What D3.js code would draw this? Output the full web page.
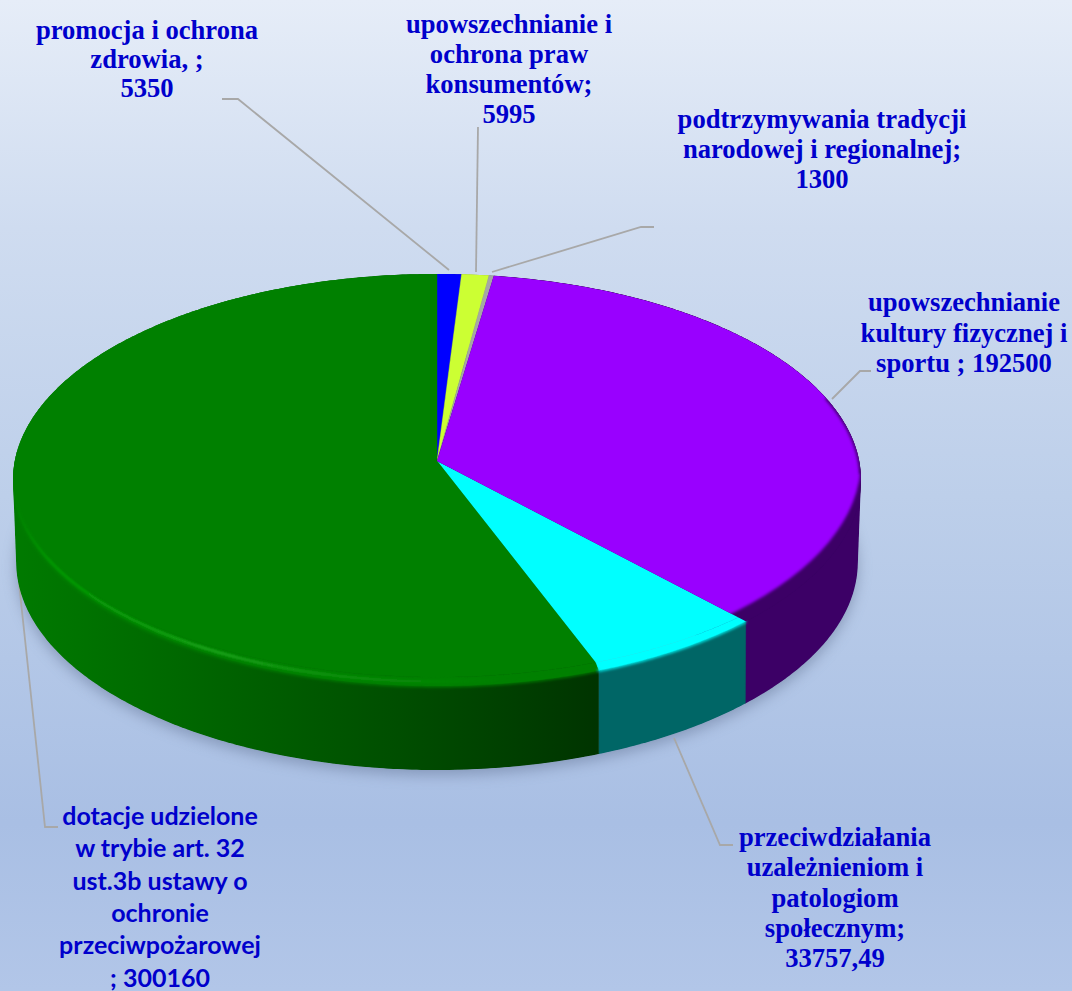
<!DOCTYPE html>
<html>
<head>
<meta charset="utf-8">
<style>
  html, body { margin: 0; padding: 0; }
  svg { display: block; }
</style>
<script src="https://cdn.jsdelivr.net/npm/d3@7"></script>
</head>
<body>
<div id="chart"></div>
<script>
// dane
const categories = [
  'promocja i ochrona zdrowia',
  'upowszechnianie i ochrona praw konsumentów',
  'podtrzymywania tradycji narodowej i regionalnej',
  'upowszechnianie kultury fizycznej i sportu',
  'przeciwdziałania uzależnieniom i patologiom społecznym',
  'dotacje udzielone w trybie art. 32 ust.3b ustawy o ochronie przeciwpożarowej'
];
const values = [5350, 5995, 1300, 192500, 33757.49, 300160];
const labelLines = [
  ['promocja i ochrona', 'zdrowia, ;', '5350'],
  ['upowszechnianie i', 'ochrona praw', 'konsumentów;', '5995'],
  ['podtrzymywania tradycji', 'narodowej i regionalnej;', '1300'],
  ['upowszechnianie', 'kultury fizycznej i', 'sportu ; 192500'],
  ['przeciwdziałania', 'uzależnieniom i', 'patologiom', 'społecznym;', '33757,49'],
  ['dotacje udzielone', 'w trybie art. 32', 'ust.3b ustawy o', 'ochronie', 'przeciwpożarowej', '; 300160']
];

// wygląd
const width = 1072;
const height = 991;
const topColors = ['#0000ff', '#ccff33', '#a6a6a6', '#9900ff', '#00ffff', '#008000'];
const wallColors = ['#000099', '#7a991f', '#636363', '#3c0066', '#006666', 'url(#greenWall)'];
const bevelColors = ['#0000ff', '#ccff33', '#a6a6a6', '#3c0066', '#00ffff', '#008000'];
const labelPos = [
  { x: 147, y: 39, dy: 29, font: 'serif' },
  { x: 509, y: 33, dy: 30, font: 'serif' },
  { x: 822, y: 128, dy: 30, font: 'serif' },
  { x: 964, y: 311, dy: 30.5, font: 'serif' },
  { x: 835, y: 846, dy: 30.3, font: 'serif' },
  { x: 160, y: 825, dy: 32.3, font: 'sans' }
];
const leaders = [
  [[222, 99], [238, 99], [449, 270]],
  [[478, 127], [476, 272]],
  [[654, 227], [641, 227], [492, 272]],
  [[871, 371], [860, 371], [832, 399]],
  [[674, 738], [720, 845], [733, 845]],
  [[19, 583], [45, 827], [58, 827]]
];

// rzut koła na elipsę z perspektywą: środek koła wypada nad środkiem elipsy
// pierścienie: 0 brzeg wierzchu, 1 góra ścianki, 2 dół ścianki
const apex = { x: 437, y: 461 };
const rings = [
  { k: 0.072, rx: 422.9, ry: 200.5, shift: 0 },
  { k: 0.092, rx: 422.2, ry: 204.3, shift: 0 },
  { k: 0.101, rx: 418.7, ry: 205.9, shift: 80 }
];

function project(a, level) {
  const r = rings[level];
  const u = Math.sin(a);
  const v = -Math.cos(a);
  const w = 1 - r.k * v;
  return [apex.x + r.rx * u / w, apex.y + r.ry * v / w + r.shift];
}

function arcAngles(a0, a1) {
  const n = Math.max(2, Math.ceil((a1 - a0) / 0.01));
  return d3.range(n + 1).map(i => a0 + (a1 - a0) * i / n);
}

// pas między dwoma pierścieniami
function band(d, inner, outer) {
  const a = arcAngles(d.startAngle, d.endAngle);
  return line(a.map(t => project(t, inner)).concat(a.slice().reverse().map(t => project(t, outer)))) + 'Z';
}

// ścianka: otoczka wypukła góry i dołu, tył i tak zakrywa wierzch
function wall(a0, a1) {
  const a = arcAngles(a0, a1);
  return line(d3.polygonHull(a.map(t => project(t, 1)).concat(a.map(t => project(t, 2))))) + 'Z';
}

// wycinek od środka do pierścienia
function sector(d, level) {
  const a = arcAngles(d.startAngle, d.endAngle);
  return line([[apex.x, apex.y]].concat(a.map(t => project(t, level)))) + 'Z';
}

const line = d3.line();
const arcs = d3.pie().sort(null).value(d => d)(values);

const svg = d3.select('#chart').append('svg')
  .attr('width', width)
  .attr('height', height);

const defs = svg.append('defs');

function gradient(id, stops, x1, x2) {
  const g = defs.append('linearGradient').attr('id', id);
  if (x1 === undefined) {
    g.attr('x1', 0).attr('y1', 0).attr('x2', 0).attr('y2', 1);
  } else {
    g.attr('gradientUnits', 'userSpaceOnUse')
      .attr('x1', x1).attr('y1', 0).attr('x2', x2).attr('y2', 0);
  }
  stops.forEach(s => {
    g.append('stop')
      .attr('offset', s[0])
      .attr('stop-color', s[1])
      .attr('stop-opacity', s[2] === undefined ? 1 : s[2]);
  });
}

gradient('bg', [[0, '#e6edf8'], [0.23, '#cfdcf0'], [0.5, '#bdcfea'], [0.83, '#a9bfe4'], [1, '#b2c6e8']]);
gradient('greenWall', [[0, '#007a00'], [0.25, '#006a00'], [0.66, '#004e00'], [1, '#003400']], 13, 597);
gradient('greenGlow', [[0, '#009a00', 0], [0.08, '#009a00', 1], [0.42, '#1fa81f', 1], [0.85, '#0f920f', 0.5], [1, '#0f920f', 0]], 13, 500);

function blur(id, dev) {
  defs.append('filter').attr('id', id)
    .attr('filterUnits', 'userSpaceOnUse')
    .attr('x', -50).attr('y', 200).attr('width', 1172).attr('height', 700)
    .append('feGaussianBlur').attr('stdDeviation', dev);
}
blur('soft', 1.6);
blur('thin', 1);
blur('shadow', 7);

// obrys całego tortu (góra + ścianka)
defs.append('clipPath').attr('id', 'pieClip')
  .append('path')
  .attr('d', wall(0, 2 * Math.PI));

// fiolet ma własną, płaską krawędź
defs.append('clipPath').attr('id', 'purpleClip')
  .append('path')
  .attr('d', sector(arcs[3], 1));

svg.append('rect')
  .attr('width', width)
  .attr('height', height)
  .attr('fill', 'url(#bg)');

// cień pod tortem
svg.append('path')
  .attr('d', line(arcAngles(0, 2 * Math.PI).map(t => project(t, 2))) + 'Z')
  .attr('transform', 'translate(0, 5)')
  .attr('fill', '#5f6f90')
  .attr('opacity', 0.5)
  .attr('filter', 'url(#shadow)');

// linie odniesienia
svg.append('g')
  .selectAll('path')
  .data(leaders)
  .join('path')
  .attr('d', d => line(d))
  .attr('fill', 'none')
  .attr('stroke', '#a8a8a8')
  .attr('stroke-width', 1.8);

const pie = svg.append('g').attr('clip-path', 'url(#pieClip)');

// ścianki boczne
pie.append('g')
  .selectAll('path')
  .data(arcs)
  .join('path')
  .attr('d', d => wall(d.startAngle, d.endAngle))
  .attr('fill', (d, i) => wallColors[i])
  .attr('stroke', (d, i) => wallColors[i])
  .attr('stroke-width', 0.5);

// skos między wierzchem a ścianką
pie.append('g')
  .selectAll('path')
  .data(arcs)
  .join('path')
  .attr('d', d => band(d, 0, 1))
  .attr('fill', (d, i) => bevelColors[i])
  .attr('stroke', (d, i) => bevelColors[i])
  .attr('stroke-width', 0.4);

// miękka krawędź na granicy ze ścianką
const rim = pie.append('g').attr('filter', 'url(#soft)').attr('fill', 'none');
[4, 5].forEach(i => {
  const d = arcs[i];
  const a1 = Math.min(d.endAngle, 1.5 * Math.PI + 0.05);
  rim.append('path')
    .attr('d', line(arcAngles(d.startAngle, a1).map(t => project(t, 1))))
    .attr('stroke', topColors[i])
    .attr('stroke-width', 2.5);
});

// wierzch
pie.append('g')
  .selectAll('path')
  .data(arcs.filter(d => d.index !== 3))
  .join('path')
  .attr('d', d => sector(d, 0))
  .attr('fill', d => topColors[d.index])
  .attr('stroke', d => topColors[d.index])
  .attr('stroke-width', 0.4);

// fiolet: ciemny podkład, na nim rozmyta elipsa
pie.append('path')
  .attr('d', sector(arcs[3], 1))
  .attr('fill', '#3c0066');

pie.append('g')
  .attr('clip-path', 'url(#purpleClip)')
  .append('ellipse')
  .attr('cx', apex.x)
  .attr('cy', apex.y)
  .attr('rx', 424)
  .attr('ry', 212)
  .attr('fill', topColors[3])
  .attr('filter', 'url(#soft)');

// ciemny brzeg fioletu z prawej strony
pie.append('path')
  .attr('d', line(arcAngles(arcs[3].startAngle + 1.1, Math.PI * 0.52).map(t => project(t, 1))))
  .attr('fill', 'none')
  .attr('stroke', '#3c0066')
  .attr('stroke-width', 3)
  .attr('filter', 'url(#soft)');

// jasna linia na krawędzi zielonego
pie.append('path')
  .attr('d', line(arcAngles(arcs[5].startAngle + 0.05, 1.5 * Math.PI).map(t => {
    const p0 = project(t, 0);
    const p1 = project(t, 1);
    return [(p0[0] + p1[0]) / 2, (p0[1] + p1[1]) / 2];
  })))
  .attr('fill', 'none')
  .attr('stroke', 'url(#greenGlow)')
  .attr('stroke-width', 2.5)
  .attr('filter', 'url(#thin)');

// etykiety
svg.append('g')
  .selectAll('text')
  .data(labelLines)
  .join('text')
  .attr('text-anchor', 'middle')
  .attr('fill', '#0000cc')
  .attr('font-weight', 'bold')
  .attr('font-family', (d, i) => labelPos[i].font === 'serif' ? '"Liberation Serif", serif' : 'Lato, "Open Sans", sans-serif')
  .attr('font-size', (d, i) => labelPos[i].font === 'serif' ? 26.6 : 25)
  .each(function(d, i) {
    d3.select(this).selectAll('tspan')
      .data(d)
      .join('tspan')
      .attr('x', labelPos[i].x)
      .attr('y', (t, j) => labelPos[i].y + j * labelPos[i].dy)
      .text(t => t);
  });
</script>
</body>
</html>
